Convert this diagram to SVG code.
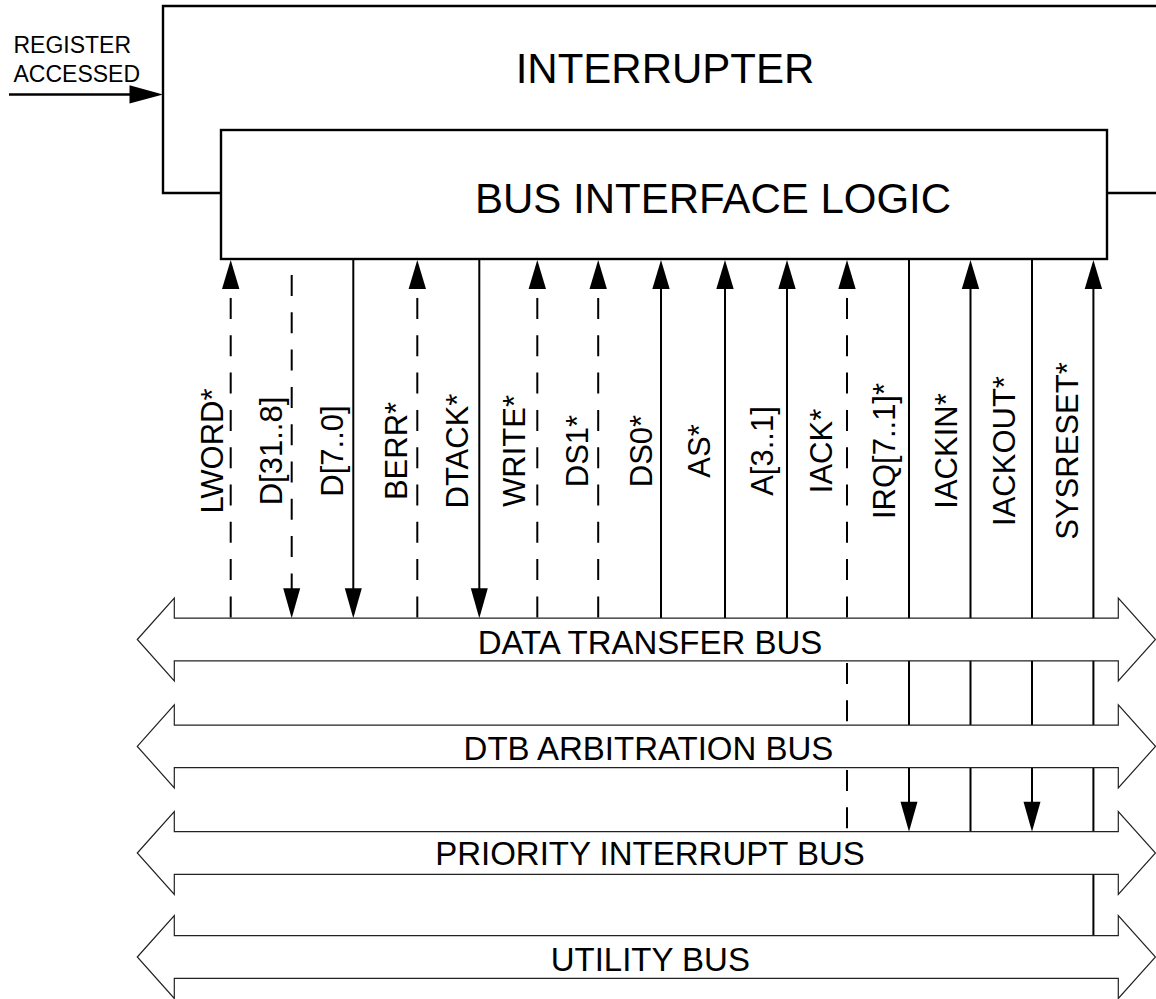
<svg xmlns="http://www.w3.org/2000/svg" width="1156" height="999" viewBox="0 0 1156 999">
<style>
text{font-family:"Liberation Sans",Arial,Helvetica,sans-serif;fill:#000}
.box{fill:#fff;stroke:#000;stroke-width:2.4}
.wire{fill:none;stroke:#000;stroke-width:2.4}
.sig{fill:none;stroke:#000;stroke-width:2}
.dash{stroke-dasharray:21 16.3}
.bus{fill:#fff;stroke:#222;stroke-width:1.2}
.lbl{font-size:31px;text-anchor:middle}
.busl{font-size:33px;text-anchor:middle}
.big{font-size:42px}
</style>
<defs>
<path id="ahU" d="M0,0 L-8.7,29 L8.7,29 Z" fill="#000"/>
<path id="ahD" d="M0,0 L-8.5,-30 L8.5,-30 Z" fill="#000"/>
<polygon id="busShape" points="137.3,0 174.3,-41.5 174.3,-21.3 1118.3,-21.3 1118.3,-41.5 1155.5,0 1118.3,41.5 1118.3,21.3 174.3,21.3 174.3,41.5"/>
</defs>

<g id="interrupter">
<path class="wire" d="M1160,6 H163 V193 H221"/>
<path class="wire" d="M1107,193 H1160"/>
<text class="big" x="665" y="83" text-anchor="middle">INTERRUPTER</text>
</g>

<g id="register-accessed">
<text x="13.5" y="53" font-size="23">REGISTER</text>
<text x="13.5" y="82" font-size="23">ACCESSED</text>
<line class="wire" x1="9" y1="94.5" x2="132" y2="94.5"/>
<polygon points="129.5,85.3 163,94.5 129.5,103.5" fill="#000"/>
</g>

<g id="bus-interface-logic">
<rect class="box" x="221" y="130" width="886" height="129"/>
<text class="big" x="475" y="213">BUS INTERFACE LOGIC</text>
</g>

<g id="connectors">
<!-- LWORD* -->
<line class="sig dash" x1="230.7" y1="298" x2="230.7" y2="618.2"/>
<use href="#ahU" x="230.7" y="260"/>
<!-- D[31..8] -->
<line class="sig dash" x1="291.7" y1="275" x2="291.7" y2="600"/>
<use href="#ahD" x="291.7" y="618.2"/>
<!-- D[7..0] -->
<line class="sig" x1="353.3" y1="259" x2="353.3" y2="600"/>
<use href="#ahD" x="353.3" y="618.2"/>
<!-- BERR* -->
<line class="sig dash" x1="417.3" y1="298" x2="417.3" y2="618.2"/>
<use href="#ahU" x="417.3" y="260"/>
<!-- DTACK* -->
<line class="sig" x1="479.3" y1="259" x2="479.3" y2="600"/>
<use href="#ahD" x="479.3" y="618.2"/>
<!-- WRITE* -->
<line class="sig dash" x1="537.3" y1="298" x2="537.3" y2="618.2"/>
<use href="#ahU" x="537.3" y="260"/>
<!-- DS1* -->
<line class="sig dash" x1="598.2" y1="298" x2="598.2" y2="618.2"/>
<use href="#ahU" x="598.2" y="260"/>
<!-- DS0* -->
<line class="sig" x1="661" y1="280" x2="661" y2="618.2"/>
<use href="#ahU" x="661" y="260"/>
<!-- AS* -->
<line class="sig" x1="725" y1="280" x2="725" y2="618.2"/>
<use href="#ahU" x="725" y="260"/>
<!-- A[3..1] -->
<line class="sig" x1="787" y1="280" x2="787" y2="618.2"/>
<use href="#ahU" x="787" y="260"/>
<!-- IACK* -->
<line class="sig dash" x1="847" y1="298" x2="847" y2="618.2"/>
<line class="sig dash" x1="847" y1="663" x2="847" y2="725"/>
<line class="sig dash" x1="847" y1="770" x2="847" y2="831.7"/>
<use href="#ahU" x="847" y="260"/>
<!-- IRQ[7..1]* -->
<line class="sig" x1="909" y1="259" x2="909" y2="812"/>
<use href="#ahD" x="909" y="831.7"/>
<!-- IACKIN* -->
<line class="sig" x1="970.5" y1="280" x2="970.5" y2="831.7"/>
<use href="#ahU" x="970.5" y="260"/>
<!-- IACKOUT* -->
<line class="sig" x1="1032" y1="259" x2="1032" y2="812"/>
<use href="#ahD" x="1032" y="831.7"/>
<!-- SYSRESET* -->
<line class="sig" x1="1093.4" y1="280" x2="1093.4" y2="935.7"/>
<use href="#ahU" x="1093.4" y="260"/>
</g>

<g id="signal-labels">
<text class="lbl" transform="rotate(-90 223.3 451)" x="223.3" y="451">LWORD*</text>
<text class="lbl" transform="rotate(-90 282 451)" x="282" y="451">D[31..8]</text>
<text class="lbl" transform="rotate(-90 343.3 451)" x="343.3" y="451">D[7..0]</text>
<text class="lbl" transform="rotate(-90 406.7 451)" x="406.7" y="451">BERR*</text>
<text class="lbl" transform="rotate(-90 468.3 451)" x="468.3" y="451">DTACK*</text>
<text class="lbl" transform="rotate(-90 525 451)" x="525" y="451">WRITE*</text>
<text class="lbl" transform="rotate(-90 588.3 451)" x="588.3" y="451">DS1*</text>
<text class="lbl" transform="rotate(-90 651.7 451)" x="651.7" y="451">DS0*</text>
<text class="lbl" transform="rotate(-90 710 451)" x="710" y="451">AS*</text>
<text class="lbl" transform="rotate(-90 773.3 451)" x="773.3" y="451">A[3..1]</text>
<text class="lbl" transform="rotate(-90 831.7 451)" x="831.7" y="451">IACK*</text>
<text class="lbl" transform="rotate(-90 895 451)" x="895" y="451">IRQ[7..1]*</text>
<text class="lbl" transform="rotate(-90 956.7 451)" x="956.7" y="451">IACKIN*</text>
<text class="lbl" transform="rotate(-90 1015 451)" x="1015" y="451">IACKOUT*</text>
<text class="lbl" transform="rotate(-90 1078.3 451)" x="1078.3" y="451">SYSRESET*</text>
</g>

<g id="data-transfer-bus">
<use href="#busShape" class="bus" y="639.5"/>
<text class="busl" x="650" y="653.5">DATA TRANSFER BUS</text>
</g>
<g id="dtb-arbitration-bus">
<use href="#busShape" class="bus" y="746.4"/>
<text class="busl" x="648.5" y="759.5">DTB ARBITRATION BUS</text>
</g>
<g id="priority-interrupt-bus">
<use href="#busShape" class="bus" y="853"/>
<text class="busl" x="650" y="864.5">PRIORITY INTERRUPT BUS</text>
</g>
<g id="utility-bus">
<use href="#busShape" class="bus" y="957"/>
<text class="busl" x="650.3" y="970.7">UTILITY BUS</text>
</g>
</svg>
